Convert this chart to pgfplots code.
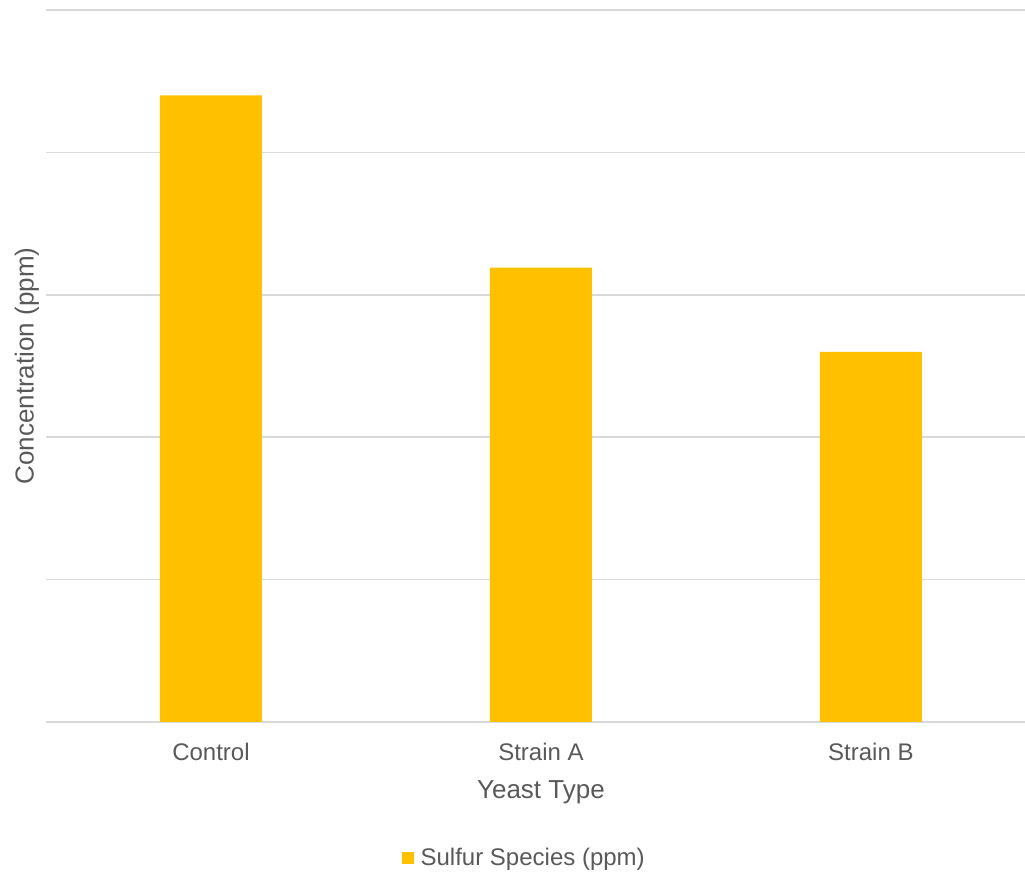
\documentclass[border=0pt]{standalone}
\usepackage{pgfplots}
\pgfplotsset{compat=1.18}
\usepackage{fontspec}
\setmainfont{Liberation Sans}
\definecolor{barcol}{HTML}{FFC000}
\definecolor{txtcol}{HTML}{595959}
\definecolor{gridcol}{HTML}{D9D9D9}
\begin{document}
\begin{tikzpicture}
\useasboundingbox (-23pt,-75pt) rectangle (489.5pt,361pt);
\begin{axis}[
  scale only axis,
  width=489.5pt, height=356pt,
  xmin=-0.5, xmax=2.467,
  ymin=0, ymax=5,
  ytick={0,1,2,3,4,5},
  yticklabels={},
  xtick={0,1,2},
  xticklabels={Control,Strain A,Strain B},
  ymajorgrids,
  grid style={gridcol, line width=0.75pt},
  axis line style={draw=none},
  major tick length=0pt,
  tick style={draw=none},
  ticklabel style={font=\fontsize{12}{14}\selectfont, text=txtcol},
  xticklabel style={yshift=-7pt},
  xlabel={Yeast Type},
  xlabel style={at={(axis cs:1,0)}, anchor=center, yshift=-35pt, font=\fontsize{13}{15}\selectfont, text=txtcol},
  ylabel={Concentration (ppm)},
  ylabel style={at={(axis description cs:-0.0194,0.5)}, anchor=center, font=\fontsize{13}{15}\selectfont, text=txtcol},
  legend style={at={(axis description cs:0.491,-0.191)}, anchor=center, draw=none, fill=none,
    font=\fontsize{12}{14}\selectfont, text=txtcol, inner sep=0pt,
    nodes={inner xsep=3.5pt}},
  legend image code/.code={\fill[barcol] (0pt,-3pt) rectangle (6pt,3pt);},
  legend cell align=left,
]
\addplot[ybar, bar width=51pt, fill=barcol, draw=none] coordinates {(0,4.40) (1,3.19) (2,2.60)};
\addlegendentry{Sulfur Species (ppm)}
\end{axis}
\end{tikzpicture}
\end{document}
